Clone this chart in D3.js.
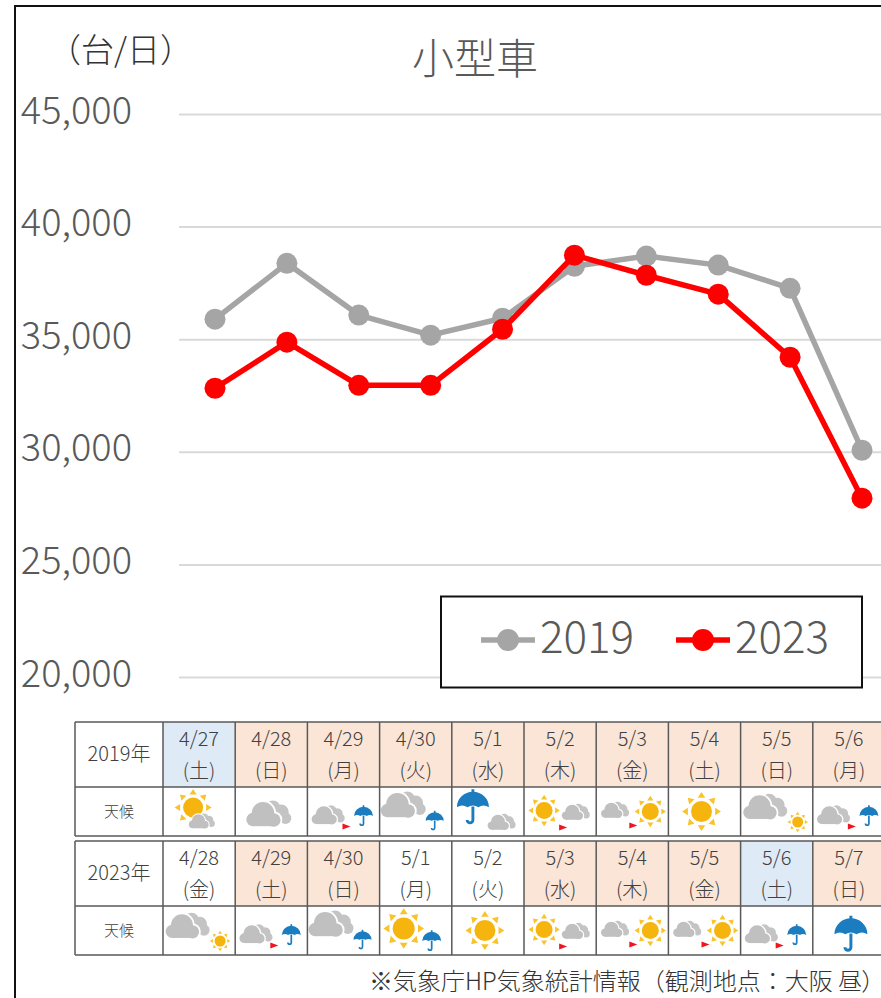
<!DOCTYPE html>
<html>
<head>
<meta charset="utf-8">
<script src="https://cdn.jsdelivr.net/npm/d3@7"></script>
<style>
body{margin:0;background:#fff}
svg{display:block}
text{font-family:"Noto Sans CJK JP","Noto Sans",sans-serif}
</style>
</head>
<body>
<svg id="chart" width="881" height="998"></svg>
<script>
// values
var yTicks = [20000,25000,30000,35000,40000,45000]
var values2019 = [35890,38370,36070,35180,35930,38240,38690,38290,37260,30070]
var values2023 = [32820,34870,32950,32950,35440,38730,37840,37000,34200,27940]
var seriesNames = ["2019","2023"]

var dates2019 = ["4/27","4/28","4/29","4/30","5/1","5/2","5/3","5/4","5/5","5/6"]
var days2019 = ["土","日","月","火","水","木","金","土","日","月"]
var kinds2019 = ["sat","hol","hol","hol","hol","hol","hol","hol","hol","hol"]
var weather2019 = ["sunCloud","cloud","cloudToRain","cloudRain","rainCloud","sunToCloud","cloudToSun","sun","cloudSun","cloudToRain"]

var dates2023 = ["4/28","4/29","4/30","5/1","5/2","5/3","5/4","5/5","5/6","5/7"]
var days2023 = ["金","土","日","月","火","水","木","金","土","日"]
var kinds2023 = ["","hol","hol","","","hol","hol","hol","sat","hol"]
var weather2023 = ["cloudSun","cloudToRain","cloudRain","sunRain","sun","sunToCloud","cloudToSun","cloudToSun","cloudToRain","rain"]

var svg = d3.select("#chart")
var textGray = "#595959"

// outer frame, only left and top show
svg.append("path")
    .attr("d","M15,998V6H881")
    .attr("fill","none")
    .attr("stroke","#111")
    .attr("stroke-width",2)

var xScale = d3.scaleLinear().domain([0,9]).range([215,862])
var yScale = d3.scaleLinear().domain([20000,45000]).range([677,114])

var yAxis = d3.axisLeft(yScale)
    .tickValues(yTicks)
    .tickFormat(d3.format(","))
    .tickSize(-702)
    .tickPadding(47)

var axisG = svg.append("g")
    .attr("transform","translate(179,0)")
    .call(yAxis)
axisG.select(".domain").remove()
axisG.selectAll("line").attr("stroke","#d9d9d9").attr("stroke-width",2)
axisG.selectAll("text")
    .attr("fill",textGray)
    .attr("font-size",38)
    .attr("font-weight",300)
    .attr("dy","0.24em")

svg.append("text")
    .attr("x",475).attr("y",74)
    .attr("text-anchor","middle")
    .attr("font-size",42)
    .attr("font-weight",300)
    .attr("fill",textGray)
    .text("小型車")

svg.append("text")
    .attr("x",48).attr("y",62)
    .attr("font-size",33)
    .attr("font-weight",300)
    .attr("fill","#333")
    .text("（台/日）")

var drawSeries = function(values,color)
{
    var line = d3.line()
        .x(function(d,i){return xScale(i)})
        .y(function(d){return yScale(d)})
    svg.append("path")
        .datum(values)
        .attr("d",line)
        .attr("fill","none")
        .attr("stroke",color)
        .attr("stroke-width",5.5)
        .attr("stroke-linejoin","round")
    svg.append("g")
        .selectAll("circle")
        .data(values)
        .enter()
        .append("circle")
        .attr("cx",function(d,i){return xScale(i)})
        .attr("cy",function(d){return yScale(d)})
        .attr("r",10.5)
        .attr("fill",color)
}
var grayLine = "#a5a5a5"
var redLine = "#ff0000"
drawSeries(values2019,grayLine)
drawSeries(values2023,redLine)

// legend
svg.append("rect")
    .attr("x",441).attr("y",596.5)
    .attr("width",421).attr("height",91)
    .attr("fill","#fff")
    .attr("stroke","#111")
    .attr("stroke-width",2)

var legendRows = [{x:481,color:grayLine},{x:676,color:redLine}]
legendRows.forEach(function(row,i)
{
    svg.append("line")
        .attr("x1",row.x).attr("x2",row.x+54)
        .attr("y1",640).attr("y2",640)
        .attr("stroke",row.color).attr("stroke-width",5.5)
    svg.append("circle")
        .attr("cx",row.x+27).attr("cy",640).attr("r",11)
        .attr("fill",row.color)
    svg.append("text")
        .attr("x",row.x+59).attr("y",653)
        .attr("font-size",44)
        .attr("font-weight",300)
        .attr("fill",textGray)
        .text(seriesNames[i])
})

// weather icons, each drawn around 0,0
var sunIcon = function(g,x,y,r)
{
    var s = g.append("g").attr("transform","translate("+x+","+y+")")
    d3.range(8).forEach(function(i)
    {
        s.append("path")
            .attr("d","M"+(-r*0.36)+","+(-r*1.3)+"L"+(r*0.36)+","+(-r*1.3)+"L0,"+(-r*1.85)+"Z")
            .attr("transform","rotate("+(i*45)+")")
            .attr("fill","#f8c32c")
    })
    s.append("circle").attr("r",r).attr("fill","#f6b40e")
}
var cloudIcon = function(g,x,y,w)
{
    var c = g.append("g").attr("transform","translate("+x+","+y+") scale("+w+")")
    var back = [[0.08,-0.14,0.17],[0.27,-0.06,0.16],[0.36,0.08,0.13]]
    var front = [[-0.36,0.11,0.15],[-0.14,-0.03,0.25],[0.1,0.12,0.15]]
    back.forEach(function(b)
    {
        c.append("circle").attr("cx",b[0]).attr("cy",b[1]).attr("r",b[2]).attr("fill","#c4c4c4")
    })
    front.forEach(function(f)
    {
        c.append("circle").attr("cx",f[0]).attr("cy",f[1]).attr("r",f[2]+0.04).attr("fill","#fff")
    })
    c.append("rect").attr("x",-0.36).attr("y",0.1).attr("width",0.46).attr("height",0.21).attr("fill","#fff")
    front.forEach(function(f)
    {
        c.append("circle").attr("cx",f[0]).attr("cy",f[1]).attr("r",f[2]).attr("fill","#c0c0c0")
    })
    c.append("rect").attr("x",-0.36).attr("y",0.08).attr("width",0.46).attr("height",0.18).attr("fill","#c0c0c0")
}
var rainIcon = function(g,x,y,w)
{
    var u = g.append("g").attr("transform","translate("+x+","+y+") scale("+w+")")
    u.append("path")
        .attr("d","M-0.5,0.02A0.5,0.48 0 0 1 0.5,0.02Q0.33,-0.08 0.17,0.02Q0,-0.08 -0.17,0.02Q-0.33,-0.08 -0.5,0.02Z")
        .attr("fill","#1c7cc0")
    u.append("path")
        .attr("d","M0,-0.54V-0.4M0,0V0.42A0.09,0.09 0 0 1 -0.18,0.42")
        .attr("fill","none")
        .attr("stroke","#1c7cc0")
        .attr("stroke-width",0.09)
}
var arrowIcon = function(g,x,y)
{
    g.append("path")
        .attr("transform","translate("+x+","+y+")")
        .attr("d","M-4,-3L4,0L-4,3Z")
        .attr("fill","#f0141e")
}

// how each weather code is put together inside its cell
var layouts = {
    sun:function(g){sunIcon(g,-3,0,10.5)},
    cloud:function(g){cloudIcon(g,-2,3,45)},
    rain:function(g){rainIcon(g,2,3,33)},
    sunCloud:function(g){sunIcon(g,-6,-4,10);cloudIcon(g,3,10,26)},
    cloudSun:function(g){cloudIcon(g,-11,-4,44);sunIcon(g,21,10.5,5.5)},
    cloudRain:function(g){cloudIcon(g,-12,-6,45);rainIcon(g,19,9,18)},
    rainCloud:function(g){rainIcon(g,-15,-5,32);cloudIcon(g,14,11,28)},
    sunRain:function(g){sunIcon(g,-12,-2,11);rainIcon(g,16,10,19)},
    cloudToRain:function(g){cloudIcon(g,-15,4,33);arrowIcon(g,3,15);rainIcon(g,20,4,19)},
    sunToCloud:function(g){sunIcon(g,-16,-1,8.5);arrowIcon(g,3,16);cloudIcon(g,16,1,28)},
    cloudToSun:function(g){cloudIcon(g,-17,-1,28);arrowIcon(g,1,14);sunIcon(g,18,0,8.5)}
}

// table under the chart
var colScale = d3.scaleLinear().domain([0,10]).range([163,885])
var kindFill = {sat:"#deebf7",hol:"#fbe5d6"}
var tableLine = "#595959"

var drawTable = function(top,yearLabel,dates,days,kinds,weather)
{
    var t = svg.append("g").attr("transform","translate(0,"+top+")")
    var midY = 65
    var bottomY = 114

    t.selectAll(".dayCell")
        .data(kinds)
        .enter()
        .append("rect")
        .attr("class","dayCell")
        .attr("x",function(d,i){return colScale(i)})
        .attr("y",0)
        .attr("width",function(d,i){return colScale(i+1)-colScale(i)})
        .attr("height",midY)
        .attr("fill",function(d){return kindFill[d] || "#fff"})

    dates.forEach(function(date,i)
    {
        var cx = (colScale(i)+colScale(i+1))/2
        t.append("text").attr("x",cx).attr("y",24)
            .attr("text-anchor","middle").attr("font-size",20).attr("font-weight",300)
            .attr("fill","#404040").text(date)
        t.append("text").attr("x",cx).attr("y",56)
            .attr("text-anchor","middle").attr("font-size",20).attr("font-weight",300)
            .attr("fill","#404040").text("("+days[i]+")")
        var cell = t.append("g").attr("transform","translate("+cx+","+((midY+bottomY)/2)+")")
        layouts[weather[i]](cell)
    })

    t.append("text").attr("x",119).attr("y",39)
        .attr("text-anchor","middle").attr("font-size",20).attr("font-weight",300)
        .attr("fill","#404040").text(yearLabel)
    t.append("text").attr("x",119).attr("y",95)
        .attr("text-anchor","middle").attr("font-size",15).attr("font-weight",300)
        .attr("fill","#404040").text("天候")

    // grid
    ;[0,midY,bottomY].forEach(function(y)
    {
        t.append("line").attr("x1",75).attr("x2",881).attr("y1",y).attr("y2",y)
            .attr("stroke",tableLine).attr("stroke-width",1.5)
    })
    ;[75].concat(d3.range(11).map(function(i){return colScale(i)})).forEach(function(x)
    {
        t.append("line").attr("x1",x).attr("x2",x).attr("y1",0).attr("y2",bottomY)
            .attr("stroke",tableLine).attr("stroke-width",1.5)
    })
}
drawTable(722,"2019年",dates2019,days2019,kinds2019,weather2019)
drawTable(841,"2023年",dates2023,days2023,kinds2023,weather2023)

// palt trims the empty half of the closing bracket so the line stays inside the page
var note = svg.append("text")
    .attr("x",874).attr("y",990)
    .attr("text-anchor","end")
    .attr("font-size",24)
    .attr("font-weight",300)
    .attr("fill","#333")
note.append("tspan").text("※気象庁HP気象統計情報（観測地点：大阪 昼")
note.append("tspan").style("font-feature-settings","'palt'").text("）")
</script>
</body>
</html>
